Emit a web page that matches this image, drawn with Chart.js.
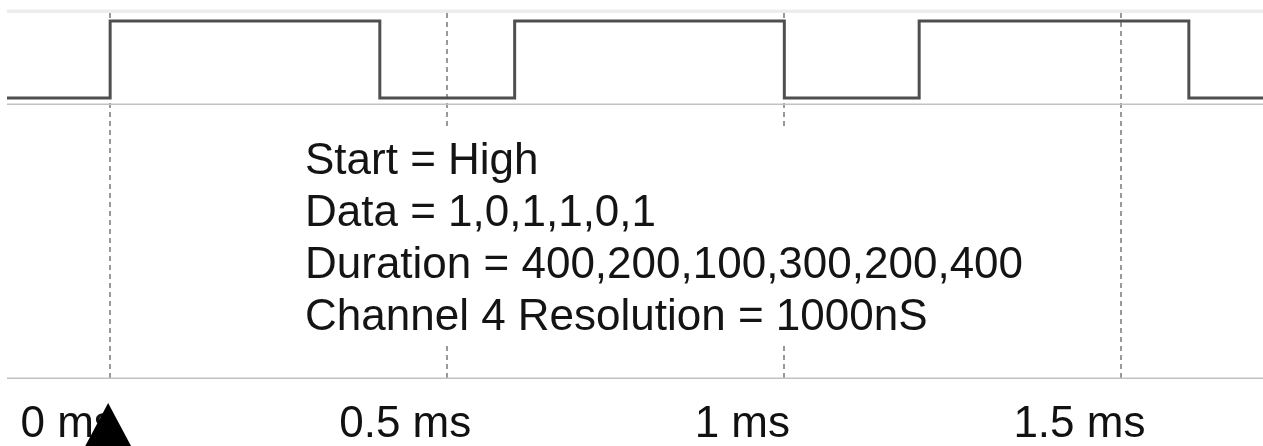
<!DOCTYPE html>
<html>
<head>
<meta charset="utf-8">
<title>Channel 4 waveform</title>
<script src="https://cdn.jsdelivr.net/npm/chart.js@4/dist/chart.umd.min.js"></script>
<style>
  html, body { margin: 0; padding: 0; background: #fff; }
  #waveChart { display: block; }
</style>
</head>
<body>
<canvas id="waveChart" width="1263" height="446"></canvas>
<script>
// edges of the signal, in ms, and the level that starts at each edge
const edgeTimes = [-0.153, 0, 0.4, 0.6, 1.0, 1.2, 1.6, 1.71];
const levels = [0, 1, 0, 1, 0, 1, 0, 0];

// tick values (ms) shown on the time axis
const tickValues = [0, 0.5, 1, 1.5];
const tickUnit = ' ms';

// notes written under the trace
const noteLines = [
  'Start = High',
  'Data = 1,0,1,1,0,1',
  'Duration = 400,200,100,300,200,400',
  'Channel 4 Resolution = 1000nS'
];

// where the trace band ends (in level units) and the marker position (ms)
const bandFloor = -0.08;
const markerTime = 0;

const FONT = '"Liberation Sans", Arial, Helvetica, sans-serif';

const puntos = edgeTimes.map((t, i) => ({ x: t, y: levels[i] }));

// extra drawing: top band, separator, axis line, note box and the marker
const extras = {
  id: 'extras',
  beforeDatasetsDraw(chart) {
    const { ctx, chartArea, scales } = chart;
    const yBand = scales.y.getPixelForValue(bandFloor);
    ctx.save();
    ctx.fillStyle = '#ededed';
    ctx.fillRect(chartArea.left, chartArea.top - 3.5, chartArea.right - chartArea.left, 3.5);
    ctx.strokeStyle = '#c2c2c2';
    ctx.lineWidth = 1.5;
    ctx.beginPath();
    ctx.moveTo(chartArea.left, yBand);
    ctx.lineTo(chartArea.right, yBand);
    ctx.moveTo(chartArea.left, chartArea.bottom);
    ctx.lineTo(chartArea.right, chartArea.bottom);
    ctx.stroke();
    ctx.restore();
  },
  afterDraw(chart) {
    const { ctx, scales } = chart;
    ctx.save();
    // white box so the notes hide the grid behind them
    ctx.fillStyle = '#fff';
    ctx.fillRect(292, 128, 770, 214);
    ctx.fillStyle = '#141414';
    ctx.font = '44px ' + FONT;
    ctx.textBaseline = 'alphabetic';
    noteLines.forEach((line, i) => {
      ctx.fillText(line, 305, 174 + i * 52);
    });
    // start marker
    const mx = scales.x.getPixelForValue(markerTime) - 2;
    ctx.fillStyle = '#000';
    ctx.beginPath();
    ctx.moveTo(mx, 403);
    ctx.lineTo(mx + 25, 450);
    ctx.lineTo(mx - 25, 450);
    ctx.closePath();
    ctx.fill();
    ctx.restore();
  }
};

const ctx = document.getElementById('waveChart').getContext('2d');

new Chart(ctx, {
  type: 'line',
  data: {
    datasets: [{
      label: 'Channel 4',
      data: puntos,
      stepped: 'before',
      borderColor: '#4f4f4f',
      borderWidth: 3,
      pointRadius: 0,
      fill: false
    }]
  },
  options: {
    responsive: false,
    animation: false,
    layout: { padding: { left: 7, right: 0, top: 13, bottom: -25 } },
    plugins: {
      legend: { display: false },
      tooltip: { enabled: false }
    },
    scales: {
      x: {
        type: 'linear',
        min: edgeTimes[0],
        max: edgeTimes[edgeTimes.length - 1],
        afterBuildTicks: (scale) => {
          scale.ticks = tickValues.map(v => ({ value: v }));
        },
        ticks: {
          autoSkip: false,
          maxRotation: 0,
          includeBounds: false,
          labelOffset: -42,
          padding: 20,
          color: '#111',
          font: { family: FONT, size: 44 },
          callback: (value) => value + tickUnit
        },
        grid: {
          color: '#999',
          lineWidth: 2,
          drawTicks: false
        },
        border: { display: false, dash: [5, 4] }
      },
      y: {
        display: false,
        min: -3.64,
        max: 1.104
      }
    }
  },
  plugins: [extras]
});
</script>
</body>
</html>
